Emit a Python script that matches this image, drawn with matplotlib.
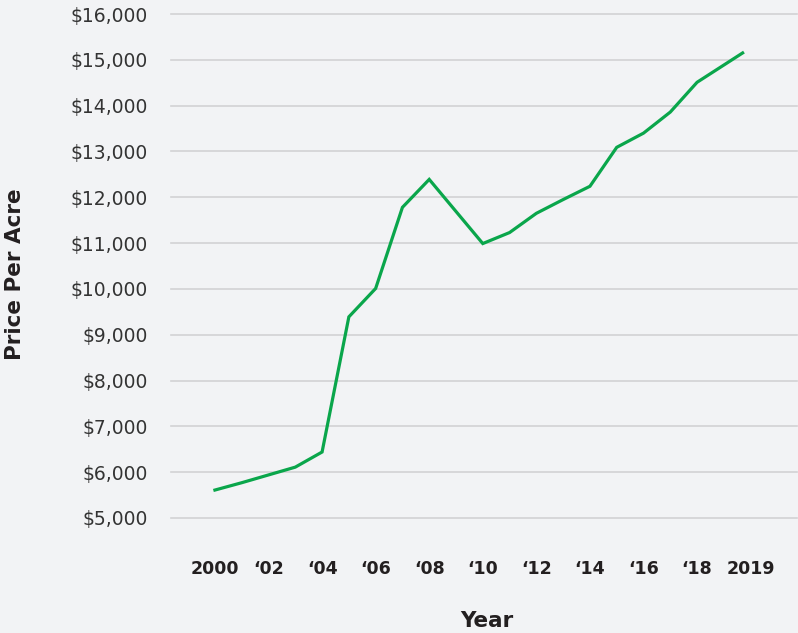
import matplotlib.pyplot as plt

# Price per acre by year
years = [2000, 2001, 2002, 2003, 2004, 2005, 2006, 2007, 2008, 2009,
         2010, 2011, 2012, 2013, 2014, 2015, 2016, 2017, 2018, 2019.7]
price = [5610, 5770, 5940, 6110, 6440, 9390, 10010, 11780, 12390, 11690,
         10990, 11230, 11650, 11950, 12240, 13090, 13400, 13860, 14510, 15150]

tick_pos = [2000, 2002, 2004, 2006, 2008, 2010, 2012, 2014, 2016, 2018, 2020]
tick_labels = ['2000', '\u201802', '\u201804', '\u201806', '\u201808', '\u201810',
               '\u201812', '\u201814', '\u201816', '\u201818', '2019']
y_ticks = list(range(5000, 16001, 1000))

bg = '#f2f3f5'
fig = plt.figure(figsize=(7.98, 6.33), dpi=100, facecolor=bg)
ax = fig.add_axes([171/798, 1 - 518/633, 626/798, 504/633])
ax.set_facecolor(bg)

ax.plot(years, price, color='#0aa64b', lw=2.3, solid_joinstyle='miter', zorder=3)

ax.set_xlim(1998.36, 2021.73)
ax.set_ylim(5000, 16000)
ax.set_yticks(y_ticks)
ax.set_yticklabels(['${:,}'.format(v) for v in y_ticks], fontsize=13.5, color='#333333')
ax.set_xticks(tick_pos)
ax.set_xticklabels(tick_labels, fontsize=12.5, fontweight='bold', color='#231f20')
ax.tick_params(axis='y', length=0, pad=17)
ax.tick_params(axis='x', length=0, pad=30)
ax.grid(axis='y', color='#d2d2d4', lw=1.2)
for gl in ax.get_ygridlines():
    gl.set_clip_on(False)
ax.set_axisbelow(True)
for s in ax.spines.values():
    s.set_visible(False)

fig.text(487/798, 1 - 621/633, 'Year', ha='center', va='center',
         fontsize=15.5, fontweight='bold', color='#231f20')
fig.text(15/798, 1 - 274/633, 'Price Per Acre', ha='center', va='center',
         rotation=90, fontsize=15.5, fontweight='bold', color='#231f20')

fig.savefig('out.png', dpi=100, facecolor=bg)
